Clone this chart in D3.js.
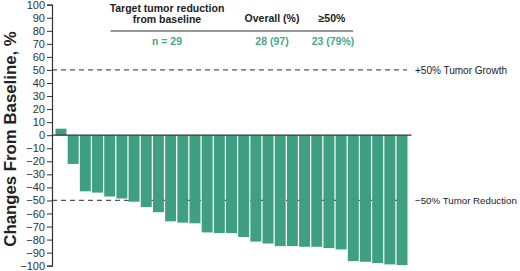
<!DOCTYPE html>
<html><head><meta charset="utf-8">
<script src="https://cdn.jsdelivr.net/npm/d3@7"></script>
<style>body{margin:0;background:#fff}svg{display:block;font-family:"Liberation Sans",Arial,sans-serif}</style>
</head><body><svg id="c" width="520" height="271"></svg>
<script>
const patients = d3.range(1, 30);
const changes = [5, -22, -43, -44, -47, -48.5, -51, -55, -59, -66, -67, -67.5, -74.5, -75, -75, -78, -81.5, -83, -85, -85, -85.5, -85.5, -86.5, -87.5, -96.5, -97, -98, -99, -99.5];
const yTicks = d3.range(-100, 101, 10);
const refLines = [50, -50];
const refLabels = ["+50% Tumor Growth", "\u221250% Tumor Reduction"];
const tableHeaders = [["Target tumor reduction", "from baseline"], ["Overall (%)"], ["\u226550%"]];
const tableValues = ["n = 29", "28 (97)", "23 (79%)"];

const svg = d3.select("#c");
const y = d3.scaleLinear().domain([-100, 100]).range([265.7, 4.7]);
const x = d3.scaleBand().domain(patients).range([55.5, 407.5]).paddingInner(0.1).paddingOuter(0);
const barColor = "#3f9f81", textGreen = "#4aa887";

// reference lines
svg.selectAll(".ref").data(refLines).join("line")
  .attr("x1", 52).attr("x2", 407).attr("y1", d => y(d)).attr("y2", d => y(d))
  .attr("stroke", "#555").attr("stroke-width", 1.3).attr("stroke-dasharray", "5,4");
svg.selectAll(".refl").data(refLabels).join("text")
  .attr("x", 415).attr("y", (d, i) => y(refLines[i]) + 4)
  .attr("font-size", 10).attr("fill", "#222").text(d => d)
  .each(function(d, i) {
    const target = i === 0 ? 92 : 102;
    const w = this.getComputedTextLength();
    if (w > target) d3.select(this).attr("font-size", 10 * target / w);
  });

// bars
svg.selectAll(".bar").data(changes).join("rect")
  .attr("x", (d, i) => x(patients[i]))
  .attr("width", x.bandwidth())
  .attr("y", d => y(Math.max(0, d)))
  .attr("height", d => Math.abs(y(d) - y(0)))
  .attr("fill", barColor);

// zero line
svg.append("line").attr("x1", 52).attr("x2", 411.5).attr("y1", y(0)).attr("y2", y(0))
  .attr("stroke", "#333").attr("stroke-width", 1.3);

// y axis
const ax = svg.append("g").attr("transform", "translate(52,0)")
  .call(d3.axisLeft(y).tickValues(yTicks).tickSize(5).tickPadding(2)
    .tickFormat(d => d < 0 ? "\u2212" + Math.abs(d) : d));
ax.select(".domain").attr("stroke", "#333").attr("stroke-width", 1.2);
ax.selectAll(".tick line").attr("stroke", "#333");
ax.selectAll(".tick text").attr("font-size", 11).attr("fill", "#333")
  .attr("font-family", "'Liberation Sans',Arial,sans-serif");

// y label
svg.append("text").attr("transform", "translate(16,139) rotate(-90)")
  .attr("text-anchor", "middle").attr("font-size", 16.8).attr("font-weight", "bold")
  .attr("fill", "#222").text("Changes From Baseline, %");

// table
const colX = [167, 272, 332];
tableHeaders.forEach((lines, i) => {
  const t = svg.append("text").attr("text-anchor", "middle").attr("font-size", 10.5)
    .attr("font-weight", "bold").attr("fill", "#222");
  const startY = lines.length === 2 ? 12 : 22;
  lines.forEach((l, j) => t.append("tspan").attr("x", colX[i]).attr("y", startY + j * 11).text(l));
});
svg.append("line").attr("x1", 110.5).attr("x2", 353).attr("y1", 31).attr("y2", 31)
  .attr("stroke", "#333").attr("stroke-width", 1.2);
svg.selectAll(".tv").data(tableValues).join("text")
  .attr("x", (d, i) => colX[i] + (i === 2 ? 1 : 0)).attr("y", 45)
  .attr("text-anchor", "middle").attr("font-size", 10.5).attr("font-weight", "bold")
  .attr("fill", textGreen).text(d => d);
</script></body></html>
